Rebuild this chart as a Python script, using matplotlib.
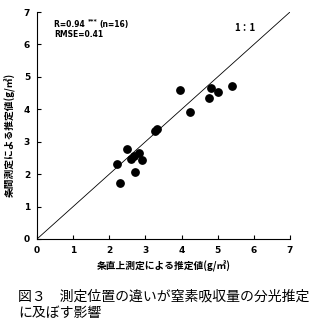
import matplotlib
matplotlib.use("Agg")
import matplotlib.pyplot as plt

plt.rcParams['font.family'] = ['Noto Sans CJK JP', 'DejaVu Sans']

x_vals = [3.95, 4.82, 5.00, 4.77, 5.40, 4.23, 3.27, 3.32, 2.48, 2.22, 2.30, 2.70, 2.60, 2.67, 2.83, 2.90]
y_vals = [4.58, 4.65, 4.52, 4.36, 4.72, 3.92, 3.34, 3.38, 2.78, 2.31, 1.73, 2.08, 2.46, 2.57, 2.66, 2.45]
ticks = [0, 1, 2, 3, 4, 5, 6, 7]
xlabel = "条直上測定による推定値(g/㎡)"
ylabel = "条間測定による推定値(g/㎡)"
caption = "図３　測定位置の違いが窒素吸収量の分光推定\nに及ぼす影響"
stats1a = "R=0.94 "
stats1b = "***"
stats1c = "(n=16)"
stats2 = "RMSE=0.41"
line_label = "1：1"

fig = plt.figure(figsize=(3.22, 3.28), dpi=100)
ax = fig.add_axes([37/322, 1-239/328, 253/322, 227/328])
ax.plot([0, 7], [0, 7], color='black', lw=0.6)
ax.scatter(x_vals, y_vals, s=28, color='black', zorder=3)
ax.set_xlim(0, 7)
ax.set_ylim(0, 7)
ax.set_xticks(ticks)
ax.set_yticks(ticks)
ax.tick_params(direction='in', length=3, width=0.8, labelsize=6.5, pad=5)
for lbl in ax.get_xticklabels() + ax.get_yticklabels():
    lbl.set_fontweight('bold')
    lbl.set_family('DejaVu Sans')
for s in ['top', 'right']:
    ax.spines[s].set_visible(False)
ax.set_xlabel(xlabel, fontsize=7, fontweight='bold', labelpad=4)
ax.set_ylabel(ylabel, fontsize=7, fontweight='bold', labelpad=6)
ax.yaxis.set_label_coords(-0.085, 0.46)
ax.text(0.48, 6.6, stats1a, fontsize=5.5, fontweight='bold', family='DejaVu Sans', va='center')
ax.text(1.4, 6.72, stats1b, fontsize=4.5, fontweight='bold', family='DejaVu Sans', va='center')
ax.text(1.72, 6.6, stats1c, fontsize=5.5, fontweight='bold', family='DejaVu Sans', va='center')
ax.text(0.48, 6.32, stats2, fontsize=5.5, fontweight='bold', family='DejaVu Sans', va='center')
ax.text(5.45, 6.52, line_label, fontsize=7, fontweight='bold', va='center')
fig.text(18/322, 1-305/328, caption, fontsize=10, va='center', ha='left', linespacing=1.2)
fig.savefig('out.png', dpi=100, facecolor='white')
